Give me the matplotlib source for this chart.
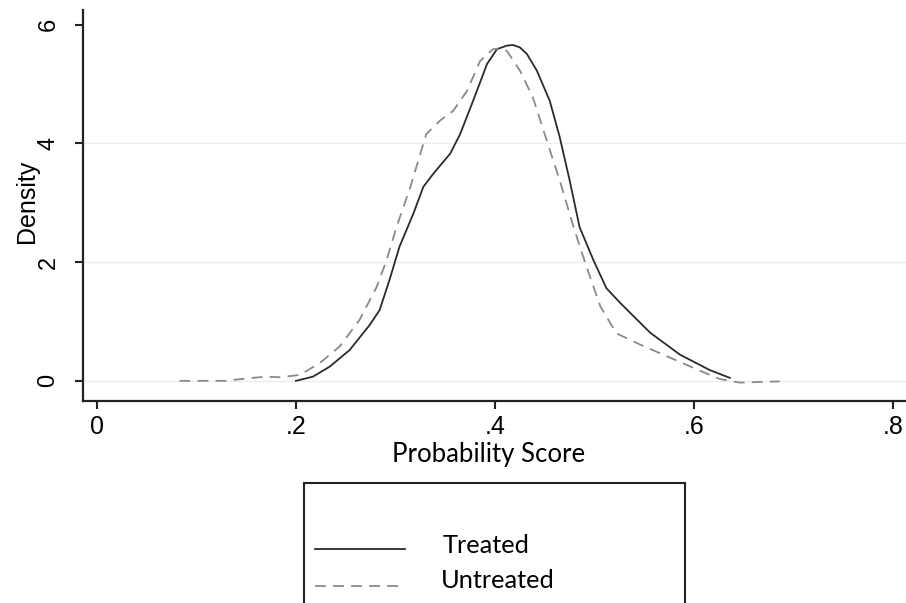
import matplotlib
matplotlib.use('Agg')
import matplotlib.pyplot as plt
from matplotlib.patches import Rectangle
from matplotlib.lines import Line2D

# kernel density curves
treated_x = [0.200, 0.217, 0.234, 0.254, 0.274, 0.284, 0.294, 0.304, 0.318, 0.328,
             0.338, 0.355, 0.365, 0.378, 0.392, 0.402, 0.412, 0.418, 0.425, 0.432,
             0.442, 0.455, 0.465, 0.475, 0.485, 0.499, 0.512, 0.526, 0.556, 0.586,
             0.616, 0.636]
treated_y = [0.00, 0.07, 0.24, 0.52, 0.94, 1.19, 1.70, 2.26, 2.82, 3.27,
             3.49, 3.83, 4.16, 4.72, 5.34, 5.59, 5.65, 5.66, 5.62, 5.51,
             5.23, 4.72, 4.11, 3.38, 2.59, 2.03, 1.56, 1.31, 0.81, 0.44,
             0.18, 0.05]

untreated_x = [0.083, 0.130, 0.150, 0.170, 0.184, 0.204, 0.224, 0.244, 0.264, 0.281,
               0.291, 0.301, 0.315, 0.325, 0.331, 0.345, 0.358, 0.372, 0.385, 0.398,
               0.405, 0.412, 0.425, 0.438, 0.452, 0.465, 0.479, 0.492, 0.506, 0.522,
               0.546, 0.576, 0.606, 0.626, 0.646, 0.686]
untreated_y = [0.00, 0.00, 0.04, 0.07, 0.06, 0.10, 0.30, 0.58, 1.03, 1.58,
               2.03, 2.59, 3.27, 3.83, 4.16, 4.39, 4.55, 4.89, 5.39, 5.59,
               5.60, 5.56, 5.23, 4.78, 4.05, 3.38, 2.59, 1.92, 1.25, 0.80,
               0.61, 0.39, 0.17, 0.03, -0.03, -0.01]

xticks = [0, 0.2, 0.4, 0.6, 0.8]
xlabels = ['0', '.2', '.4', '.6', '.8']
yticks = [0, 2, 4, 6]
ylabels = ['0', '2', '4', '6']

tickfont = ['Liberation Sans', 'DejaVu Sans']
labelfont = ['Lato', 'DejaVu Sans']

fig = plt.figure(figsize=(9.06, 6.03), dpi=100)
ax = fig.add_axes([83/906, 202/603, 1 - 83/906, 391/603])

for g in [0, 2, 4]:
    ax.axhline(g, color='#ececec', lw=1, zorder=0)

ax.plot(treated_x, treated_y, color='#2b2b2b', lw=1.3, solid_joinstyle='round')
ax.plot(untreated_x, untreated_y, color='#8a8a8a', lw=1.3, dashes=(6, 4))

ax.set_xlim(-0.014, 0.813)
ax.set_ylim(-0.34, 6.25)
ax.set_xticks(xticks)
ax.set_xticklabels(xlabels, family=tickfont, fontsize=18)
ax.set_yticks(yticks)
ax.set_yticklabels(ylabels, family=tickfont, fontsize=17, rotation=90, va='center')
ax.tick_params(axis='x', direction='out', length=6, width=1.5, color='#222222', pad=4)
ax.tick_params(axis='y', direction='out', length=6, width=1.5, color='#222222', pad=11)

for s in ['top', 'right']:
    ax.spines[s].set_visible(False)
for s in ['left', 'bottom']:
    ax.spines[s].set_linewidth(1.6)
    ax.spines[s].set_color('#222222')

ax.set_xlabel('Probability Score', family=labelfont, fontsize=18.5, va='baseline', ha='center')
ax.xaxis.set_label_coords((489 - 83) / 823, (141 - 202) / 391)
ax.set_ylabel('Density', family=tickfont, fontsize=18, va='center', ha='center')
ax.yaxis.set_label_coords((27 - 83) / 823, 200 / 391)

# legend box hanging below the plot
fig.add_artist(Rectangle((304/906, -0.05), (685-304)/906, (603-483)/603 + 0.05,
                         transform=fig.transFigure, fill=False, lw=1.5,
                         edgecolor='#222222', clip_on=False))
fig.add_artist(Line2D([315/906, 405/906], [1 - 549/603] * 2, transform=fig.transFigure,
                      color='#2b2b2b', lw=1.3))
fig.add_artist(Line2D([315/906, 405/906], [1 - 586/603] * 2, transform=fig.transFigure,
                      color='#8a8a8a', lw=1.3, dashes=(6, 4)))
fig.text(443/906, 1 - 553/603, 'Treated', family=labelfont, fontsize=18.3, va='baseline')
fig.text(441/906, 1 - 588/603, 'Untreated', family=labelfont, fontsize=18.3, va='baseline')

fig.savefig('out.png', dpi=100)
